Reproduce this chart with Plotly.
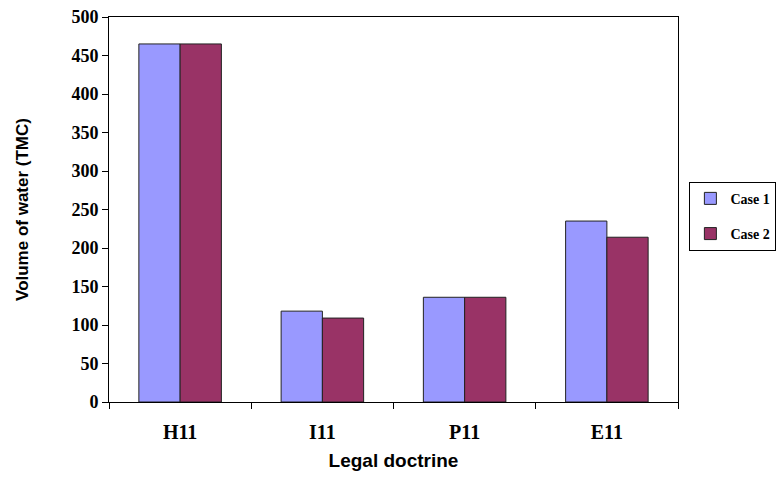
import plotly.graph_objects as go

# Water volume per legal doctrine for two cases
doctrines = ["H11", "I11", "P11", "E11"]
case1 = [465, 118, 136, 235]
case2 = [465, 109, 136, 214]
y_ticks = [0, 50, 100, 150, 200, 250, 300, 350, 400, 450, 500]

serif_bold = "Liberation Serif"
sans_bold = "Liberation Sans"

fig = go.Figure()
fig.add_trace(go.Bar(
    x=doctrines, y=case1, name="<b>Case 1</b>",
    marker=dict(color="#9999FF", line=dict(color="#222222", width=1)),
    legendgroup="a",
))
fig.add_trace(go.Bar(
    x=doctrines, y=case2, name="<b>Case 2</b>",
    marker=dict(color="#993366", line=dict(color="#222222", width=1)),
    legendgroup="b",
))

fig.update_layout(
    width=784, height=478,
    margin=dict(l=109, r=106, t=17, b=76, autoexpand=False),
    paper_bgcolor="white", plot_bgcolor="white",
    barmode="group", bargap=0.42, bargroupgap=0,
    showlegend=True,
    legend=dict(
        x=1.02, y=0.572, xanchor="left", yanchor="top",
        bordercolor="black", borderwidth=1,
        font=dict(family=serif_bold, size=14, color="black"),
        tracegroupgap=14,
        itemwidth=30,
    ),
    xaxis=dict(
        showline=True, linecolor="black", linewidth=1, mirror=True,
        ticks="outside", tickson="boundaries", ticklen=6, tickcolor="black",
        tickfont=dict(family=serif_bold, size=20, color="black"),
        tickvals=doctrines, ticktext=["<b>%s</b>" % d for d in doctrines],
        ticklabelstandoff=12,
        title=dict(text="<b>Legal doctrine</b>",
                   font=dict(family=sans_bold, size=19, color="black"),
                   standoff=11),
    ),
    yaxis=dict(
        range=[0, 500], tickvals=y_ticks,
        ticktext=["<b>%d</b>" % v for v in y_ticks],
        showline=True, linecolor="black", linewidth=1, mirror=True,
        showgrid=False, zeroline=False,
        ticks="outside", ticklen=6, tickcolor="black",
        tickfont=dict(family=serif_bold, size=18, color="black"),
        title=dict(text="<b>Volume of water (TMC)</b>",
                   font=dict(family=sans_bold, size=17, color="black"),
                   standoff=38),
    ),
)

fig.write_html("out.html")
